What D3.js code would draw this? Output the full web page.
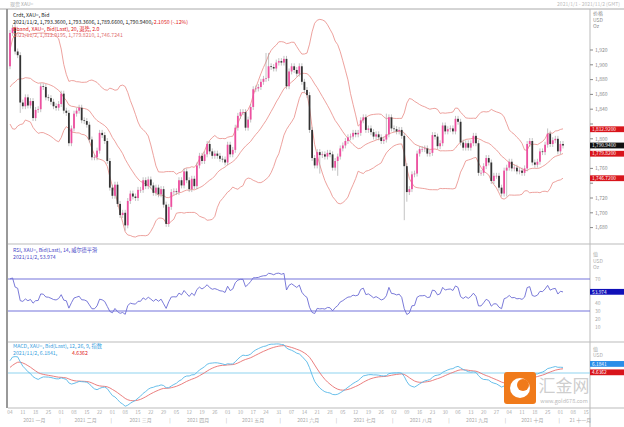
<!DOCTYPE html>
<html><head><meta charset="utf-8">
<script src="https://cdn.jsdelivr.net/npm/d3@7"></script>
<style>body{margin:0;background:#fff}svg{display:block}text{font-family:"Noto Sans CJK SC","Noto Sans",sans-serif}</style>
</head><body><svg id="c" width="624" height="427"></svg>
<script>
// warm-up closes (Nov–Dec 2020), not drawn
const warmup = [1895,1908,1904,1949,1951,1862,1877,1866,1873,1889,1888,1880,1872,1866,1871,1837,1806,1810,1811,1788,1776,
 1815,1830,1841,1839,1863,1871,1839,1837,1840,1827,1853,1862,1886,1881,1872,1859,1870,1876,1876,1876,1877,1893,1898];
// daily closes Jan 4 – Nov 2 2021 (weekdays)
const closes = [
 1943,1950,1918,1913,1849,1844,1856,1845,1851,1828,1839,1840,1871,1870,1856,1855,1850,1844,1842,1847,
 1861,1838,1835,1794,1814,1834,1838,1842,1825,1824,1819,1799,1775,1775,1784,1808,1805,1797,1770,1734,
 1723,1738,1712,1697,1700,1683,1716,1726,1722,1720,1731,1731,1744,1736,1745,1737,1727,1734,1725,1732,1711,1685,1708,
 1728,1729,1728,1744,1737,1756,1744,1732,1746,1736,1764,1777,1770,1779,1793,1783,1777,1780,1777,1773,1772,1768,
 1792,1779,1785,1815,1831,1836,1836,1815,1826,1843,1867,1868,1870,1877,1881,1882,1898,1897,1895,1903,1905,
 1903,1908,1871,1891,1898,1893,1888,1898,1877,1866,1859,1812,1774,1764,1782,1778,1779,1776,1781,1779,1761,1770,
 1776,1787,1791,1797,1802,1803,1808,1806,1808,1825,1829,1812,1814,1809,1803,1806,1802,1797,1799,1806,1829,1814,
 1813,1810,1812,1804,1763,1728,1732,1752,1753,1780,1786,1786,1787,1780,1781,1805,1803,1790,1794,1818,1810,1813,
 1814,1810,1827,1823,1795,1788,1794,1788,1794,1804,1794,1754,1754,1763,1774,1768,1743,1750,1750,1734,1726,1757,
 1761,1769,1760,1761,1756,1757,1754,1760,1793,1797,1768,1765,1769,1783,1782,1792,1807,1793,1798,1800,1783,
 1793,1790.94];
const firstOpen = 1898;
// notable wick extremes (index -> value)
const highs = {2:1959, 100:1916, 101:1916, 147:1834, 210:1814};
const lows  = {4:1835, 45:1676, 121:1753, 154:1690, 155:1715, 128:1750, 194:1722};
const monthNames = ["一月","二月","三月","四月","五月","六月","七月","八月","九月","十月","十一月"];
const priceTicks = [1920,1900,1880,1860,1840,1820,1800,1780,1760,1740,1720,1700,1680];
const rsiTicks = [70,60,50,40,30,20,10];
const legendMain = ["Crdt, XAU=, Bid","2021/11/2, 1,793.3600, 1,793.3606, 1,789.6600, 1,790.9400, "];
const legendChg = "-2.1050 (-.12%)";
const legendBB = ["Bband, XAU=, Bid(Last), 20, 退势, 2.0","2021/11/2, 1,812.9195, 1,779.8210, 1,746.7241"];
const bbTags = [1812.92,1779.82,1746.72];
const lastTag = 1790.94;
const rsiLegend = ["RSI, XAU=, Bid(Last), 14, 威尔德平滑","2021/11/2, 53.974"];
const rsiTag = 53.974;
const macdLegend = ["MACD, XAU=, Bid(Last), 12, 26, 9, 指数","2021/11/2, 6.1841, "];
const macdTags = [6.1841,4.6362];

const svg = d3.select("#c");
const all = warmup.concat(closes), W = warmup.length, n = closes.length;
const dates=[]; {let d=new Date(2021,0,4); while(dates.length<n+12){ if(d.getDay()%6!==0) dates.push(new Date(d)); d.setDate(d.getDate()+1);} }
const x = d3.scaleLinear().domain([0,n-1]).range([10,563]);
const y = d3.scaleLinear().domain([1680,1920]).range([227.6,50]);
const yR = d3.scaleLinear().domain([0,100]).range([335,255]);
const yM = d3.scaleLinear().domain([0,30]).range([373,346]);

const bb=[]; for(let i=W;i<all.length;i++){const s=all.slice(i-19,i+1);const m=d3.mean(s),sd=Math.sqrt(d3.mean(s,v=>(v-m)**2));bb.push([m+2*sd,m,m-2*sd]);}
const rsi=[]; {let ag=0,al=0; for(let i=1;i<=14;i++){const c=all[i]-all[i-1];ag+=Math.max(c,0)/14;al+=Math.max(-c,0)/14;}
 for(let i=15;i<all.length;i++){const c=all[i]-all[i-1];ag=(ag*13+Math.max(c,0))/14;al=(al*13+Math.max(-c,0))/14;if(i>=W)rsi.push(100-100/(1+ag/al));}}
const ema=(arr,p)=>{const k=2/(p+1);const o=[arr[0]];for(let i=1;i<arr.length;i++)o.push(arr[i]*k+o[i-1]*(1-k));return o;};
const e12=ema(all,12),e26=ema(all,26),mac=all.map((v,i)=>e12[i]-e26[i]),sig=ema(mac,9);
const macd=mac.slice(W),signal=sig.slice(W);

const grey="#888";
svg.append("line").attr("x1",0).attr("x2",624).attr("y1",9).attr("y2",9).attr("stroke","#aaa");
svg.append("rect").attr("x",6).attr("y",9).attr("width",2).attr("height",399).attr("fill","#999");
svg.append("line").attr("x1",590).attr("x2",590).attr("y1",9).attr("y2",427).attr("stroke","#bbb");
[244,342,408].forEach(v=>svg.append("line").attr("x1",8).attr("x2",624).attr("y1",v).attr("y2",v).attr("stroke","#bbb"));
svg.append("text").attr("x",10).attr("y",6).attr("font-size",5).attr("fill","#aaa").text("现货 XAU=");
svg.append("text").attr("x",620).attr("y",6).attr("font-size",5).attr("fill","#bbb").attr("text-anchor","end").text("2021/1/1 - 2021/11/2 (GMT)");

const line=(arr,sc)=>d3.line().x((d,i)=>x(i)).y(d=>sc(d))(arr);
[0,1,2].forEach(k=>svg.append("path").attr("d",line(bb.map(b=>b[k]),y)).attr("fill","none").attr("stroke","#e88a85").attr("stroke-width",0.8));
const g=svg.append("g");
closes.forEach((c,i)=>{const o=i?closes[i-1]:firstOpen;const hi=highs[i]??Math.max(o,c)+4,lo=lows[i]??Math.min(o,c)-4;
 const up=c>=o;
 g.append("line").attr("x1",x(i)).attr("x2",x(i)).attr("y1",y(hi)).attr("y2",y(lo)).attr("stroke","#999").attr("stroke-width",0.6);
 g.append("rect").attr("x",x(i)-0.9).attr("width",1.8).attr("y",y(Math.max(o,c))).attr("height",Math.max(0.6,Math.abs(y(o)-y(c)))).attr("fill",up?"#ee4fa0":"#333");});
const tagVals=bbTags.concat([lastTag]);
priceTicks.forEach(v=>{svg.append("line").attr("x1",590).attr("x2",593).attr("y1",y(v)).attr("y2",y(v)).attr("stroke",grey);
 if(tagVals.some(t=>Math.abs(y(t)-y(v))<6)) return;
 svg.append("text").attr("x",595).attr("y",y(v)+1.7).attr("font-size",5).attr("fill",grey).text(d3.format(",")(v));});
["价格","USD","Oz"].forEach((t,i)=>svg.append("text").attr("x",593).attr("y",15+i*6.5).attr("font-size",5).attr("fill",grey).text(t));
const tag=(v,sc,col,txt)=>{svg.append("rect").attr("x",590).attr("y",sc(v)-2.9).attr("width",34).attr("height",5.8).attr("fill",col);
 svg.append("text").attr("x",592).attr("y",sc(v)+1.7).attr("font-size",4.8).attr("fill","#fff").text(txt);};
bbTags.forEach(v=>tag(v,y,"#d8141b",d3.format(",.4f")(v)));
tag(lastTag,y,"#111","1,790.9400");
const leg=(lines,y0,cols)=>lines.forEach((t,i)=>svg.append("text").attr("x",13).attr("y",y0+i*6.8).attr("font-size",5.2).attr("fill",cols[i]).text(t));
leg(legendMain,17,["#222","#222"]);
svg.append("text").attr("x",152).attr("y",23.8).attr("font-size",5.2).attr("fill","#e02020").text(legendChg);
leg(legendBB,30.6,["#e02020","#e07070"]);

[70,30].forEach(v=>svg.append("line").attr("x1",8).attr("x2",590).attr("y1",yR(v)).attr("y2",yR(v)).attr("stroke","#7474dc").attr("stroke-width",1.1));
svg.append("path").attr("d",line(rsi,yR)).attr("fill","none").attr("stroke","#6b6bd4").attr("stroke-width",0.9);
leg(rsiLegend,252,["#4a4ac8","#4a4ac8"]);
rsiTicks.forEach(v=>{ if(Math.abs(yR(v)-yR(rsiTag))<6) return; svg.append("text").attr("x",595).attr("y",yR(v)+1.7).attr("font-size",5).attr("fill","#aaa").text(v);});
["值","USD","Oz"].forEach((t,i)=>svg.append("text").attr("x",593).attr("y",256+i*6.5).attr("font-size",5).attr("fill","#aaa").text(t));
tag(rsiTag,yR,"#1010b8","53.974");

svg.append("line").attr("x1",8).attr("x2",590).attr("y1",yM(0)).attr("y2",yM(0)).attr("stroke","#8fd3f0").attr("stroke-width",1.1);
svg.append("path").attr("d",line(signal,yM)).attr("fill","none").attr("stroke","#e87070").attr("stroke-width",0.9);
svg.append("path").attr("d",line(macd,yM)).attr("fill","none").attr("stroke","#58b8e8").attr("stroke-width",0.9);
leg(macdLegend,348,["#3aa0e0","#3aa0e0"]);
svg.append("text").attr("x",72).attr("y",354.8).attr("font-size",5.2).attr("fill","#e02020").text(d3.format(".4f")(macdTags[1]));
["值","USD"].forEach((t,i)=>svg.append("text").attr("x",593).attr("y",351+i*6).attr("font-size",5).attr("fill","#aaa").text(t));
tag(macdTags[0],d=>yM(d)-3.5,"#2a8ee8","6.1841");
tag(macdTags[1],d=>yM(d)+3.5,"#d8141b","4.6362");

dates.forEach((d,i)=>{const px=x(i); if(px>588) return;
 const prev=dates[i-1]; if(i===0||d.getDay()===1||(prev&&d-prev>3*864e5)){svg.append("text").attr("x",px).attr("y",414).attr("font-size",4.8).attr("fill","#aaa").attr("text-anchor","middle").text(d3.timeFormat("%d")(d));}
});
const months=d3.groups(dates.map((d,i)=>[d,i]),a=>a[0].getMonth());
months.forEach(([m,arr])=>{const i0=arr[0][1],i1=arr[arr.length-1][1];
 if(m>0) svg.append("text").attr("x",x(i0)-1.3).attr("y",422).attr("font-size",5).attr("fill","#aaa").attr("text-anchor","middle").text("|");
 const cx=Math.min((x(i0)+Math.min(x(i1),588))/2, 586);
 svg.append("text").attr("x",m===10?x(i0)+20:cx).attr("y",422).attr("font-size",5).attr("fill","#aaa").attr("text-anchor","middle").text((m===10?"21 ":"2021 ")+monthNames[m]);});

const wm=svg.append("g");
wm.append("rect").attr("x",504).attr("y",372).attr("width",32).attr("height",32).attr("rx",3).attr("fill","#f07a1a");
wm.append("circle").attr("cx",520).attr("cy",388).attr("r",10).attr("fill","#fff");
wm.append("circle").attr("cx",523).attr("cy",385).attr("r",6).attr("fill","#f07a1a");
wm.append("text").attr("x",564).attr("y",392).attr("font-size",17).attr("text-anchor","middle").attr("fill","#c8c8c8").attr("fill-opacity",0.9).text("汇金网");
wm.append("text").attr("x",564).attr("y",402.5).attr("font-size",5.5).attr("text-anchor","middle").attr("fill","#bbb").text("www.gold678.com");
</script></body></html>
